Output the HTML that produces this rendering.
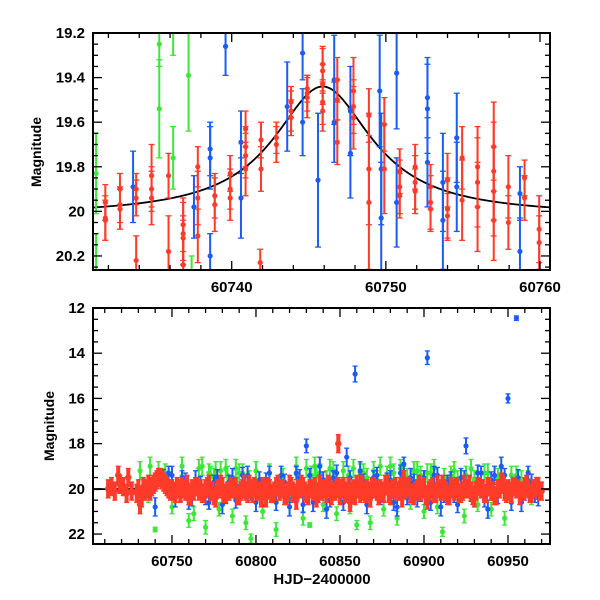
<!DOCTYPE html>
<html><head><meta charset="utf-8"><style>
html,body{margin:0;padding:0;background:#fff;width:600px;height:600px;overflow:hidden}
svg{display:block}
text{font-family:"Liberation Sans",sans-serif;font-weight:bold;fill:#000}
</style></head><body>
<svg id="chart" width="600" height="600" viewBox="0 0 600 600"></svg>
<script>
// ---------- TOP PANEL DATA ----------
const topRedT=[60731.8,60731.8,60731.8,60732.75,60732.75,60732.75,60733.8,60733.8,60733.8,60734.8,60734.8,60734.8,60735.9,60735.9,60736.85,60736.85,60736.85,60736.85,60737.8,60737.8,60737.8,60738.9,60738.9,60739.9,60739.9,60739.9,60740.9,60740.9,60740.9,60740.9,60741.9,60741.9,60741.85,60742.9,60742.9,60743.85,60743.85,60743.85,60744.9,60744.9,60744.9,60745.9,60745.9,60745.9,60745.9,60745.9,60746.85,60746.85,60746.85,60747.9,60747.9,60747.9,60748.9,60748.9,60748.9,60749.9,60749.9,60750.9,60750.9,60750.9,60751.9,60751.9,60751.9,60752.9,60752.9,60752.9,60754,60754,60754,60754.95,60754.95,60755.95,60755.95,60755.95,60757,60757,60757,60757,60757.95,60757.95,60759,60759,60759.95,60759.95];
const topRedM=[19.96,20.03,20.04,19.9,19.97,19.99,19.94,19.9,20.22,19.84,19.9,19.94,19.84,20.18,20.06,20.1,20.24,20.12,19.8,19.94,20.11,19.93,19.97,19.83,19.9,19.94,19.63,19.71,19.75,19.81,19.68,19.81,20.23,19.67,19.7,19.51,19.55,19.58,19.45,19.47,19.49,19.34,19.37,19.43,19.51,19.55,19.41,19.5,19.69,19.46,19.53,19.58,19.57,19.81,19.96,19.61,19.81,19.82,19.89,19.93,19.8,19.87,19.91,19.89,19.96,19.99,19.86,19.99,20.02,19.76,19.95,19.8,19.87,19.98,19.71,19.82,19.91,20.04,19.89,20.05,19.85,19.94,20.14,20.08];
const topRedE=[0.08,0.1,0.09,0.07,0.08,0.09,0.08,0.07,0.11,0.14,0.1,0.12,0.1,0.16,0.12,0.14,0.2,0.1,0.09,0.12,0.12,0.1,0.12,0.08,0.09,0.1,0.08,0.09,0.1,0.12,0.08,0.1,0.06,0.07,0.08,0.07,0.09,0.08,0.06,0.08,0.09,0.08,0.1,0.09,0.1,0.09,0.1,0.09,0.1,0.15,0.12,0.14,0.12,0.25,0.3,0.12,0.2,0.1,0.12,0.1,0.1,0.12,0.1,0.1,0.12,0.1,0.12,0.14,0.1,0.14,0.18,0.18,0.2,0.2,0.2,0.22,0.2,0.18,0.14,0.12,0.08,0.1,0.12,0.15];
const topBlueT=[60733.6,60737.55,60738.6,60738.6,60738.6,60739.6,60740.6,60740.6,60743.6,60744.6,60744.6,60745.6,60746.65,60746.65,60747.7,60747.7,60749.6,60749.7,60749.7,60750.7,60750.7,60752.7,60752.7,60752.7,60753.7,60753.7,60754.6,60754.6,60758.7,60758.7];
const topBlueM=[19.89,19.98,19.72,19.76,20.2,19.26,19.69,19.94,19.53,19.29,19.6,19.86,19.41,19.6,19.55,19.74,19.46,19.81,20.03,19.38,19.96,19.49,19.54,19.78,19.87,20.04,19.67,19.89,19.92,20.18];
const topBlueE=[0.16,0.14,0.12,0.14,0.1,0.13,0.14,0.18,0.2,0.12,0.15,0.3,0.2,0.18,0.2,0.2,0.25,0.25,0.25,0.25,0.2,0.18,0.2,0.2,0.22,0.22,0.2,0.2,0.12,0.15];
const topGreenT=[60731.2,60731.2,60735.3,60735.3,60736.2,60736.2,60737.2,60737.4];
const topGreenM=[19.83,20.35,19.25,19.54,19.76,19.1,19.39,20.3];
const topGreenE=[0.18,0.25,0.1,0.22,0.14,0.2,0.25,0.1];
const modelT0=60745.9, modelPeak=19.44, modelBase=20.02, modelW=3.9;

// ---------- BOTTOM PANEL DATA ----------
const botRedT=[60712,60714,60716,60718,60719,60721,60723,60724,60726,60729,60730,60731,60732,60733,60734,60735,60736,60737,60738,60739,60740,60741,60742,60743,60744,60745,60746,60747,60748,60749,60750,60752,60754,60756,60758,60760,60762,60764,60766,60768,60770,60772,60774,60776,60778,60780,60782,60784,60786,60788,60790,60792,60794,60796,60798,60800,60802,60804,60806,60808,60810,60812,60814,60816,60818,60820,60822,60824,60826,60828,60830,60832,60834,60836,60838,60840,60842,60844,60846,60848,60849,60850,60852,60854,60856,60858,60860,60862,60864,60866,60868,60870,60872,60874,60876,60878,60880,60882,60884,60886,60888,60890,60892,60894,60896,60898,60900,60902,60904,60906,60908,60910,60912,60914,60916,60918,60920,60922,60924,60926,60928,60930,60932,60934,60936,60938,60940,60942,60944,60946,60948,60950,60952,60954,60956,60958,60960,60962,60964,60966,60968,60970,
60751,60753,60755,60757,60759,60761,60763,60765,60767,60769,60771,60773,60775,60777,60779,60781,60783,60785,60787,60789,60791,60793,60795,60797,60799,60801,60803,60805,60807,60809,60811,60813,60815,60817,60819,60821,60823,60825,60827,60829,60831,60833,60835,60837,60839,60841,60843,60845,60847,60849,60851,60853,60855,60857,60859,60861,60863,60865,60867,60869,60871,60873,60875,60877,60879,60881,60883,60885,60887,60889,60891,60893,60895,60897,60899,60901,60903,60905,60907,60909,60911,60913,60915,60917,60919,60921,60923,60925,60927,60929,60931,60933,60935,60937,60939,60941,60943,60945,60947,60949,60951,60953,60955,60957,60959,60961,60963,60965,60967,60969];
const botRedM=[20.0,19.9,20.1,19.4,19.8,19.9,20.2,19.5,20.1,20.2,20.0,20.7,20.4,19.9,20.1,20.0,19.8,20.1,19.9,19.8,19.7,19.6,19.5,19.5,19.6,19.7,19.8,19.9,20.0,20.1,20.0,20.2,20.0,19.9,20.1,20.3,20.0,19.9,20.1,20.2,20.0,19.8,20.1,20.4,20.0,19.9,20.2,20.1,20.0,19.9,20.3,20.0,20.1,19.8,20.2,20.0,20.1,19.9,20.4,20.0,20.2,19.9,20.1,20.0,20.3,19.8,20.1,20.5,20.0,19.9,20.2,20.0,20.1,20.4,19.8,20.0,20.2,19.9,20.1,20.0,18.0,20.3,19.9,20.1,20.6,20.0,19.8,20.2,20.1,20.0,20.4,19.9,20.1,20.0,20.2,19.8,20.3,20.0,20.1,19.9,19.6,19.9,20.2,20.3,20.0,20.1,19.9,20.5,20.0,20.2,19.8,20.1,20.0,20.3,19.9,20.1,20.0,20.2,19.8,20.0,20.1,20.4,19.9,20.0,20.2,19.9,20.1,20.3,20.0,19.7,20.1,20.0,20.2,19.9,20.0,20.1,19.9,20.0,20.2,20.0,19.9,20.1,
20.1,19.9,20.2,20.0,19.8,20.3,20.1,19.9,20.0,20.2,19.9,20.1,20.3,20.0,19.8,20.2,20.1,19.9,20.0,20.3,20.1,19.8,20.2,20.0,19.9,20.1,20.4,20.0,19.9,20.2,20.1,19.8,20.0,20.3,20.1,19.9,20.2,20.0,19.8,20.1,20.3,20.0,19.9,20.2,20.1,20.0,19.8,20.3,20.1,19.9,20.0,20.2,19.9,20.1,20.3,20.0,19.8,20.2,20.1,19.9,20.0,20.3,20.1,19.8,20.2,20.0,19.9,20.1,20.4,20.0,19.9,20.2,20.1,19.8,20.0,20.3,20.1,19.9,20.2,20.0,19.8,20.1,20.3,20.0,19.9,20.2,20.1,20.0,19.8,20.3,20.1,19.9,20.0,20.2,19.9,20.1,20.3,20.0,19.8,20.2,20.1,19.9,20.0,20.3,20.1,19.8,20.2,20.0,19.9,20.1];
const botBlueT=[60738,60740,60748,60750,60752,60756,60760,60764,60770,60775,60780,60786,60790,60795,60800,60806,60810,60815,60820,60824,60830,60834,60838,60842,60846,60850,60854,60859,60862,60866,60870,60874,60880,60884,60888,60892,60896,60902,60906,60910,60914,60918,60922,60925,60930,60934,60938,60942,60946,60950,60955,60958,60962,60966,
60745,60755,60758,60762,60767,60772,60777,60782,60784,60788,60792,60797,60802,60804,60808,60812,60817,60822,60826,60828,60832,60836,60840,60844,60848,60852,60856,60858,60864,60868,60872,60876,60878,60882,60886,60890,60894,60898,60900,60904,60908,60912,60916,60920,60924,60928,60932,60936,60940,60944,60948,60952,60956,60960,60964,60968];
const botBlueM=[19.9,20.8,19.3,19.4,20.4,19.5,20.5,19.6,20.3,19.7,20.7,19.5,20.1,19.4,20.6,19.6,20.2,19.4,20.8,19.3,18.1,20.6,19.0,20.9,19.5,20.2,18.6,14.92,19.2,20.7,19.5,20.3,19.6,20.8,18.9,19.5,20.4,14.2,19.4,20.8,19.7,20.2,19.5,18.1,20.4,19.3,20.9,19.4,19.0,16.0,12.45,20.6,19.3,20.2,
19.5,20.2,19.6,20.4,19.8,20.6,19.5,20.3,19.7,20.5,19.4,20.2,19.6,20.4,19.3,20.6,19.7,20.3,19.5,20.7,19.4,20.2,19.6,20.5,19.3,20.6,19.5,20.3,19.7,20.5,19.4,20.2,19.6,20.6,19.3,20.4,19.7,20.2,19.5,20.6,19.4,20.3,19.6,20.7,19.5,20.2,19.3,20.5,19.6,20.3,19.4,20.6,19.5,20.2,19.7,20.4];
const botBlueE=[0.4,0.4,0.3,0.4,0.4,0.3,0.4,0.4,0.4,0.3,0.4,0.4,0.3,0.4,0.4,0.3,0.4,0.4,0.4,0.3,0.3,0.4,0.4,0.4,0.3,0.4,0.4,0.35,0.4,0.4,0.3,0.4,0.4,0.4,0.3,0.4,0.4,0.3,0.4,0.4,0.3,0.4,0.4,0.35,0.4,0.3,0.4,0.4,0.4,0.2,0.1,0.4,0.3,0.4,
0.35,0.35,0.3,0.35,0.35,0.3,0.35,0.35,0.3,0.35,0.35,0.3,0.35,0.35,0.3,0.35,0.35,0.3,0.35,0.35,0.3,0.35,0.35,0.3,0.35,0.35,0.3,0.35,0.35,0.3,0.35,0.35,0.3,0.35,0.35,0.3,0.35,0.35,0.3,0.35,0.35,0.3,0.35,0.35,0.3,0.35,0.35,0.3,0.35,0.35,0.3,0.35,0.35,0.3,0.35,0.35];
const botGreenT=[60731,60736,60737,60740,60746,60750,60756,60760,60763,60766,60770,60773,60776,60778,60782,60786,60790,60794,60797,60800,60804,60808,60812,60816,60820,60824,60828,60832,60836,60840,60844,60848,60852,60856,60860,60864,60868,60872,60876,60880,60884,60888,60892,60896,60900,60904,60908,60911,60916,60920,60924,60928,60932,60936,60940,60944,60948,60952,60958,60964,
60742,60744,60768,60772,60775,60779,60783,60788,60792,60796,60830,60833,60835,60838,60842,60846,60855,60858,60862,60866,60870,60874,60878,60882,60886,60890,60894,60898,60902,60906,60912,60918,60925,60930,60938,60946,60955,60962];
const botGreenM=[19.2,20.3,19.0,21.8,19.3,20.8,19.0,21.4,21.1,19.1,21.7,19.4,19.2,20.9,19.1,21.2,19.3,21.5,22.2,19.2,21.0,19.3,21.8,19.5,20.5,19.0,21.3,21.6,19.4,20.7,19.1,21.1,19.2,20.8,21.6,19.3,21.5,19.6,20.9,19.0,21.3,19.4,20.6,19.2,21.0,19.3,20.8,21.9,19.4,19.6,21.2,19.1,20.7,19.3,20.9,19.5,21.3,19.4,19.6,20.4,
19.2,19.5,19.0,19.3,19.5,19.2,19.4,19.1,19.3,19.6,19.1,19.4,19.0,19.3,19.6,19.2,19.4,19.1,19.3,19.5,19.2,19.0,19.4,19.3,19.1,19.5,19.2,19.4,19.3,19.1,19.5,19.2,19.4,19.6,19.3,19.5,19.4,19.6];
const botGreenE=[0.4,0.3,0.4,0.1,0.4,0.3,0.4,0.3,0.3,0.4,0.3,0.4,0.4,0.3,0.4,0.3,0.4,0.3,0.2,0.4,0.3,0.4,0.3,0.4,0.3,0.4,0.3,0.1,0.4,0.3,0.4,0.3,0.4,0.3,0.2,0.4,0.3,0.4,0.3,0.4,0.3,0.4,0.3,0.4,0.3,0.4,0.3,0.2,0.4,0.4,0.3,0.4,0.3,0.4,0.3,0.4,0.3,0.4,0.4,0.3,
0.4,0.4,0.4,0.4,0.4,0.4,0.4,0.4,0.4,0.4,0.4,0.4,0.4,0.4,0.4,0.4,0.4,0.4,0.4,0.4,0.4,0.4,0.4,0.4,0.4,0.4,0.4,0.4,0.4,0.4,0.4,0.4,0.4,0.4,0.4,0.4,0.4,0.4];

const topXTicks=[60740,60750,60760];
const topYTicks=[19.2,19.4,19.6,19.8,20,20.2];
const botXTicks=[60750,60800,60850,60900,60950];
const botYTicks=[12,14,16,18,20,22];

const NS='http://www.w3.org/2000/svg';
const svg=document.getElementById('chart');
function el(tag,attrs,parent){const e=document.createElementNS(NS,tag);for(const k in attrs)e.setAttribute(k,attrs[k]);(parent||svg).appendChild(e);return e;}

const RED='#ff3b2a',BLUE='#1a5cf5',GREEN='#3ee63a';

function panel(name,L,R,T,B,x0,x1,y0,y1,xMajor,xMinor,yMajor,yMinor,xTicks,yTicks,yFmt){
  const g=el('g',{});
  
  
  const X=t=>L+(t-x0)/(x1-x0)*(R-L);
  const Y=m=>T+(m-y0)/(y1-y0)*(B-T);
  const cid='clip-'+name;
  const cp=el('clipPath',{id:cid},g);el('rect',{x:L,y:T,width:R-L,height:B-T},cp);
  const plot=el('g',{'clip-path':'url(#'+cid+')'},g);
  
  
  return {g,plot,X,Y,L,R,T,B,x0,x1,y0,y1,xMajor,xMinor,yMajor,yMinor,xTicks,yTicks,yFmt};
}
function drawAxes(p,prefix){
  const ax=el('g',{stroke:'#000','stroke-width':1.3,fill:'none'},p.g);
  
  
  el('rect',{x:p.L,y:p.T,width:p.R-p.L,height:p.B-p.T,'stroke-width':2},ax);
  const eps=1e-6;
  for(let v=Math.ceil(p.x0/p.xMinor)*p.xMinor;v<=p.x1+eps;v+=p.xMinor){
    const major=Math.abs(v/p.xMajor-Math.round(v/p.xMajor))<1e-6;const len=major?9:5;const x=p.X(v);
    el('line',{x1:x,x2:x,y1:p.B,y2:p.B-len},ax);el('line',{x1:x,x2:x,y1:p.T,y2:p.T+len},ax);
  }
  for(let v=Math.ceil(p.y0/p.yMinor-eps)*p.yMinor;v<=p.y1+eps;v+=p.yMinor){
    const major=Math.abs(v/p.yMajor-Math.round(v/p.yMajor))<1e-6;const len=major?9:5;const y=p.Y(v);
    el('line',{x1:p.L,x2:p.L+len,y1:y,y2:y},ax);el('line',{x1:p.R,x2:p.R-len,y1:y,y2:y},ax);
  }
  p.xTicks.forEach(v=>{const t=el('text',{x:p.X(v),y:p.B+22,'text-anchor':'middle','font-size':15},p.g);t.textContent=String(v);
    
    });
  p.yTicks.forEach(v=>{const t=el('text',{x:p.L-8,y:p.Y(v)+5,'text-anchor':'end','font-size':15},p.g);t.textContent=p.yFmt(v);
    
    });
}
function series(p,T,M,E,color,name,r,sw,cap){
  const g=el('g',{},p.plot);
  
  
  for(let i=0;i<T.length;i++){
    const x=p.X(T[i]),y=p.Y(M[i]),y1=p.Y(M[i]-E[i]),y2=p.Y(M[i]+E[i]);
    el('line',{x1:x,x2:x,y1:y1,y2:y2,stroke:color,'stroke-width':sw},g);
    el('line',{x1:x-cap,x2:x+cap,y1:y1,y2:y1,stroke:color,'stroke-width':1.3},g);
    el('line',{x1:x-cap,x2:x+cap,y1:y2,y2:y2,stroke:color,'stroke-width':1.3},g);
    const c=el('circle',{cx:x,cy:y,r:r,fill:color},g);
    
    
  }
}
function model(p,name){
  let d='';
  for(let i=0;i<=300;i++){const t=p.x0+(p.x1-p.x0)*i/300;const u=(t-modelT0)/modelW;
    const m=modelBase-(modelBase-modelPeak)/(1+u*u);d+=(i?'L':'M')+p.X(t).toFixed(2)+','+p.Y(m).toFixed(2);}
  const path=el('path',{d:d,fill:'none',stroke:'#000','stroke-width':1.8},p.plot);
  
  
}

const topP=panel('top-panel',93,550,33,270,60731,60760.65,19.2,20.263,10,2,0.2,0.05,topXTicks,topYTicks,v=>(v===20?'20':v.toFixed(1)));
model(topP,'top-model-curve');
series(topP,topGreenT,topGreenM,topGreenE,GREEN,'top-green-series',2.6,2,3);
series(topP,topBlueT,topBlueM,topBlueE,BLUE,'top-blue-series',2.6,2,3);
series(topP,topRedT,topRedM,topRedE,RED,'top-red-series',2.6,2,3);
drawAxes(topP,'top');

const botP=panel('bottom-panel',93,550,308,544,60703,60975,12,22.44,50,10,2,0.5,botXTicks,botYTicks,v=>String(v));
model(botP,'bottom-model-curve');
series(botP,botGreenT,botGreenM,botGreenE,GREEN,'bottom-green-series',2.6,2,2.5);
series(botP,botBlueT,botBlueM,botBlueE,BLUE,'bottom-blue-series',2.6,2,2.5);
series(botP,botRedT,botRedM,botRedM.map(()=>0.4),RED,'bottom-red-series',3.2,4,2.5);
drawAxes(botP,'bottom');

const yt1=el('text',{x:0,y:0,transform:'translate(41,152) rotate(-90)','text-anchor':'middle','font-size':14});yt1.textContent='Magnitude';


const yt2=el('text',{x:0,y:0,transform:'translate(54,426) rotate(-90)','text-anchor':'middle','font-size':14});yt2.textContent='Magnitude';


const xt=el('text',{x:322,y:584,'text-anchor':'middle','font-size':15});xt.textContent='HJD\u22122400000';


</script>
</body></html>
